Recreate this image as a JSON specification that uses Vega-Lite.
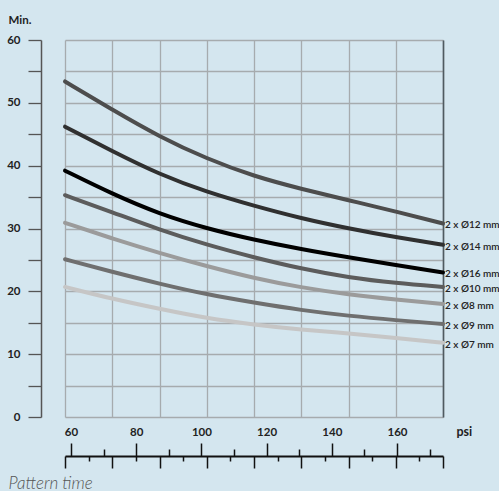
{
  "$schema": "https://vega.github.io/schema/vega-lite/v6.json",
  "autosize": {"type": "none"},
  "width": 378,
  "height": 377,
  "padding": {"left": 65, "top": 40, "right": 56, "bottom": 74},
  "background": "#d4e6ef",
  "config": {"view": {"stroke": null}, "font": "Lato"},
  "data": {
    "values": [
      {"series": "2 x Ø12 mm", "psi": 58.16, "min": 53.4},
      {"series": "2 x Ø12 mm", "psi": 72.65, "min": 48.9},
      {"series": "2 x Ø12 mm", "psi": 87.15, "min": 44.6},
      {"series": "2 x Ø12 mm", "psi": 101.64, "min": 41.1},
      {"series": "2 x Ø12 mm", "psi": 116.13, "min": 38.3},
      {"series": "2 x Ø12 mm", "psi": 130.62, "min": 36.3},
      {"series": "2 x Ø12 mm", "psi": 145.12, "min": 34.5},
      {"series": "2 x Ø12 mm", "psi": 159.61, "min": 32.7},
      {"series": "2 x Ø12 mm", "psi": 174.1, "min": 30.8},
      {"series": "2 x Ø14 mm", "psi": 58.16, "min": 46.2},
      {"series": "2 x Ø14 mm", "psi": 72.65, "min": 42.3},
      {"series": "2 x Ø14 mm", "psi": 87.15, "min": 38.6},
      {"series": "2 x Ø14 mm", "psi": 101.64, "min": 35.8},
      {"series": "2 x Ø14 mm", "psi": 116.13, "min": 33.6},
      {"series": "2 x Ø14 mm", "psi": 130.62, "min": 31.6},
      {"series": "2 x Ø14 mm", "psi": 145.12, "min": 30.0},
      {"series": "2 x Ø14 mm", "psi": 159.61, "min": 28.6},
      {"series": "2 x Ø14 mm", "psi": 174.1, "min": 27.4},
      {"series": "2 x Ø16 mm", "psi": 58.16, "min": 39.2},
      {"series": "2 x Ø16 mm", "psi": 72.65, "min": 35.5},
      {"series": "2 x Ø16 mm", "psi": 87.15, "min": 32.3},
      {"series": "2 x Ø16 mm", "psi": 101.64, "min": 30.0},
      {"series": "2 x Ø16 mm", "psi": 116.13, "min": 28.2},
      {"series": "2 x Ø16 mm", "psi": 130.62, "min": 26.7},
      {"series": "2 x Ø16 mm", "psi": 145.12, "min": 25.4},
      {"series": "2 x Ø16 mm", "psi": 159.61, "min": 24.2},
      {"series": "2 x Ø16 mm", "psi": 174.1, "min": 23.0},
      {"series": "2 x Ø10 mm", "psi": 58.16, "min": 35.3},
      {"series": "2 x Ø10 mm", "psi": 72.65, "min": 32.6},
      {"series": "2 x Ø10 mm", "psi": 87.15, "min": 29.8},
      {"series": "2 x Ø10 mm", "psi": 101.64, "min": 27.4},
      {"series": "2 x Ø10 mm", "psi": 116.13, "min": 25.4},
      {"series": "2 x Ø10 mm", "psi": 130.62, "min": 23.6},
      {"series": "2 x Ø10 mm", "psi": 145.12, "min": 22.2},
      {"series": "2 x Ø10 mm", "psi": 159.61, "min": 21.3},
      {"series": "2 x Ø10 mm", "psi": 174.1, "min": 20.7},
      {"series": "2 x Ø8 mm", "psi": 58.16, "min": 30.9},
      {"series": "2 x Ø8 mm", "psi": 72.65, "min": 28.4},
      {"series": "2 x Ø8 mm", "psi": 87.15, "min": 26.1},
      {"series": "2 x Ø8 mm", "psi": 101.64, "min": 24.0},
      {"series": "2 x Ø8 mm", "psi": 116.13, "min": 22.1},
      {"series": "2 x Ø8 mm", "psi": 130.62, "min": 20.6},
      {"series": "2 x Ø8 mm", "psi": 145.12, "min": 19.5},
      {"series": "2 x Ø8 mm", "psi": 159.61, "min": 18.7},
      {"series": "2 x Ø8 mm", "psi": 174.1, "min": 18.0},
      {"series": "2 x Ø9 mm", "psi": 58.16, "min": 25.1},
      {"series": "2 x Ø9 mm", "psi": 72.65, "min": 23.1},
      {"series": "2 x Ø9 mm", "psi": 87.15, "min": 21.2},
      {"series": "2 x Ø9 mm", "psi": 101.64, "min": 19.5},
      {"series": "2 x Ø9 mm", "psi": 116.13, "min": 18.2},
      {"series": "2 x Ø9 mm", "psi": 130.62, "min": 17.0},
      {"series": "2 x Ø9 mm", "psi": 145.12, "min": 16.1},
      {"series": "2 x Ø9 mm", "psi": 159.61, "min": 15.4},
      {"series": "2 x Ø9 mm", "psi": 174.1, "min": 14.8},
      {"series": "2 x Ø7 mm", "psi": 58.16, "min": 20.7},
      {"series": "2 x Ø7 mm", "psi": 72.65, "min": 18.8},
      {"series": "2 x Ø7 mm", "psi": 87.15, "min": 17.2},
      {"series": "2 x Ø7 mm", "psi": 101.64, "min": 15.7},
      {"series": "2 x Ø7 mm", "psi": 116.13, "min": 14.7},
      {"series": "2 x Ø7 mm", "psi": 130.62, "min": 13.9},
      {"series": "2 x Ø7 mm", "psi": 145.12, "min": 13.3},
      {"series": "2 x Ø7 mm", "psi": 159.61, "min": 12.6},
      {"series": "2 x Ø7 mm", "psi": 174.1, "min": 11.8}
    ]
  },
  "resolve": {"axis": {"x": "independent", "y": "independent"}},
  "layer": [
    {
      "mark": {"type": "line", "strokeWidth": 4, "interpolate": "basis", "strokeCap": "round"},
      "encoding": {
        "x": {
          "field": "psi", "type": "quantitative",
          "scale": {"domain": [58.16, 174.1], "nice": false, "zero": false},
          "axis": {
            "orient": "bottom", "offset": 39,
            "values": [58.16, 65.41, 72.65, 79.9, 87.15, 94.39, 101.64, 108.88, 116.13, 123.38, 130.62, 137.87, 145.12, 152.36, 159.61, 166.86, 174.1],
            "labels": false,
            "grid": true, "gridColor": "#a6abae", "gridWidth": 1.3,
            "gridOpacity": {"condition": {"test": "indexof([58.16,72.65,87.15,101.64,116.13,130.62,145.12,159.61,174.1], datum.value) >= 0", "value": 1}, "value": 0},
            "ticks": true, "tickColor": "#111", "tickWidth": 1.5,
            "tickSize": {"condition": {"test": "indexof([58.16,72.65,87.15,101.64,116.13,130.62,145.12,159.61,174.1], datum.value) >= 0", "value": 12}, "value": 5},
            "domain": true, "domainColor": "#111", "domainWidth": 2,
            "title": "Pattern time", "titleFont": "Lato", "titleFontStyle": "italic", "titleFontWeight": 300, "titleFontSize": 17, "titleColor": "#555",
            "titleAlign": "left", "titleBaseline": "alphabetic", "titleX": -57, "titleY": 32
          }
        },
        "y": {
          "field": "min", "type": "quantitative",
          "scale": {"domain": [0, 60], "nice": false},
          "axis": {
            "orient": "left", "offset": 24,
            "values": [0, 5, 10, 15, 20, 25, 30, 35, 40, 45, 50, 55, 60],
            "labelExpr": "datum.value % 10 == 0 ? datum.label : ''",
            "labelFont": "Lato", "labelFontWeight": "bold", "labelFontSize": 11.5, "labelColor": "#222", "labelPadding": 8,
            "tickSize": 13, "tickColor": "#555", "tickWidth": 1.3,
            "domainColor": "#555", "domainWidth": 1.5,
            "grid": true, "gridColor": "#a6abae", "gridWidth": 1.3,
            "title": "Min.", "titleAngle": 0, "titleFont": "Lato", "titleFontWeight": "bold", "titleFontSize": 11.5, "titleColor": "#222",
            "titleAlign": "left", "titleBaseline": "alphabetic", "titleX": -33, "titleY": -17
          }
        },
        "color": {
          "field": "series", "type": "nominal", "legend": null,
          "scale": {
            "domain": ["2 x Ø12 mm", "2 x Ø14 mm", "2 x Ø16 mm", "2 x Ø10 mm", "2 x Ø8 mm", "2 x Ø9 mm", "2 x Ø7 mm"],
            "range": ["#4d4d4d", "#303030", "#000000", "#5c5c5c", "#9b9b9b", "#6f6f6f", "#c6c6c6"]
          }
        },
        "detail": {"field": "series"}
      }
    },
    {
      "transform": [{"filter": "datum.psi == 174.1"}],
      "mark": {"type": "text", "align": "left", "baseline": "middle", "dx": 2, "dy": 2, "font": "Lato", "fontSize": 10, "fontWeight": 600, "color": "#222"},
      "encoding": {
        "x": {
          "field": "psi", "type": "quantitative",
          "axis": {
            "orient": "bottom", "offset": 39,
            "values": [60, 70, 80, 90, 100, 110, 120, 130, 140, 150, 160, 170],
            "labelExpr": "datum.value % 20 == 0 ? datum.label : ''",
            "labelFont": "Lato", "labelFontWeight": "bold", "labelFontSize": 11.5, "labelColor": "#222",
            "labelPadding": -17,
            "tickColor": "#111", "tickWidth": 1.5,
            "tickSize": {"condition": {"test": "datum.value % 20 == 0", "value": -13}, "value": -7},
            "domain": false, "grid": false,
            "title": "psi", "titleFont": "Lato", "titleFontWeight": "bold", "titleFontSize": 12.5, "titleColor": "#222",
            "titleAlign": "left", "titleBaseline": "middle", "titleX": 391, "titleY": -25
          }
        },
        "y": {
          "field": "min", "type": "quantitative",
          "axis": {"orient": "right", "labels": false, "ticks": false, "grid": false, "domain": true, "domainColor": "#4f5a60", "domainWidth": 1.6, "title": null}
        },
        "text": {"field": "series"}
      }
    }
  ]
}
